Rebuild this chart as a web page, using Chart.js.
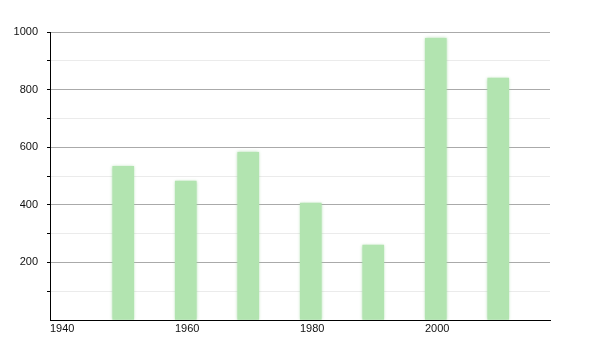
<!DOCTYPE html>
<html>
<head>
<meta charset="utf-8">
<script src="https://cdn.jsdelivr.net/npm/chart.js@4"></script>
<style>
html,body{margin:0;padding:0;background:#fff;}
#wrap{width:600px;height:350px;}
</style>
</head>
<body>
<div id="wrap"><canvas id="c" width="600" height="350"></canvas></div>
<script>
// ---- data ----
const years = [1950, 1960, 1970, 1980, 1990, 2000, 2010];
const values = [534, 482, 582, 406, 260, 978, 840];
const xTickLabels = [1940, 1960, 1980, 2000];
const yTickValues = [0, 100, 200, 300, 400, 500, 600, 700, 800, 900, 1000];
const yLabelValues = [200, 400, 600, 800, 1000];

// ---- style ----
const barOffsetYears = 1.72; // bars start at the year, drawn to the right
const barColor = 'rgb(178,228,176)';
const fontSpec = { family: '"Liberation Sans", Arial, sans-serif', size: 11 };

const shadowPlugin = {
  id: 'barShadow',
  beforeDatasetsDraw(chart) {
    const ctx = chart.ctx;
    ctx.save();
    ctx.shadowColor = 'rgba(160,215,158,0.9)';
    ctx.shadowBlur = 3;
  },
  afterDatasetsDraw(chart) { chart.ctx.restore(); }
};

new Chart(document.getElementById('c'), {
  type: 'bar',
  data: {
    datasets: [{
      data: years.map((y, i) => ({ x: y + barOffsetYears, y: values[i] })),
      backgroundColor: barColor,
      borderWidth: 0,
      barThickness: 21
    }]
  },
  options: {
    responsive: false,
    animation: false,
    devicePixelRatio: 1,
    layout: { padding: { top: 32, right: 50, left: 0, bottom: 0 } },
    plugins: { legend: { display: false }, tooltip: { enabled: false } },
    scales: {
      x: {
        type: 'linear',
        min: 1940, max: 2020,
        offset: false,
        grid: { display: false, drawTicks: false, offset: false },
        border: { display: true, color: '#000', width: 1 },
        afterBuildTicks(scale) { scale.ticks = xTickLabels.map(v => ({ value: v })); },
        afterFit(scale) { scale.height = 30; },
        ticks: {
          align: 'start',
          color: '#111',
          font: fontSpec,
          padding: 2,
          maxRotation: 0,
          autoSkip: false,
          callback: v => String(v)
        }
      },
      y: {
        type: 'linear',
        min: 0, max: 1000,
        afterBuildTicks(scale) { scale.ticks = yTickValues.map(v => ({ value: v })); },
        afterFit(scale) { scale.width = 50; },
        border: { display: true, color: '#000', width: 1 },
        grid: {
          color: ctx => (ctx.tick && yLabelValues.includes(ctx.tick.value)) ? '#aaaaaa' : (ctx.tick && ctx.tick.value === 0 ? 'rgba(0,0,0,0)' : '#ebebeb'),
          tickColor: ctx => (ctx.tick && ctx.tick.value === 0) ? 'rgba(0,0,0,0)' : '#000',
          tickLength: 3,
          lineWidth: 1
        },
        ticks: {
          color: '#111',
          font: fontSpec,
          padding: 9,
          autoSkip: false,
          callback: v => yLabelValues.includes(v) ? String(v) : ''
        }
      }
    }
  },
  plugins: [shadowPlugin]
});
</script>
</body>
</html>
